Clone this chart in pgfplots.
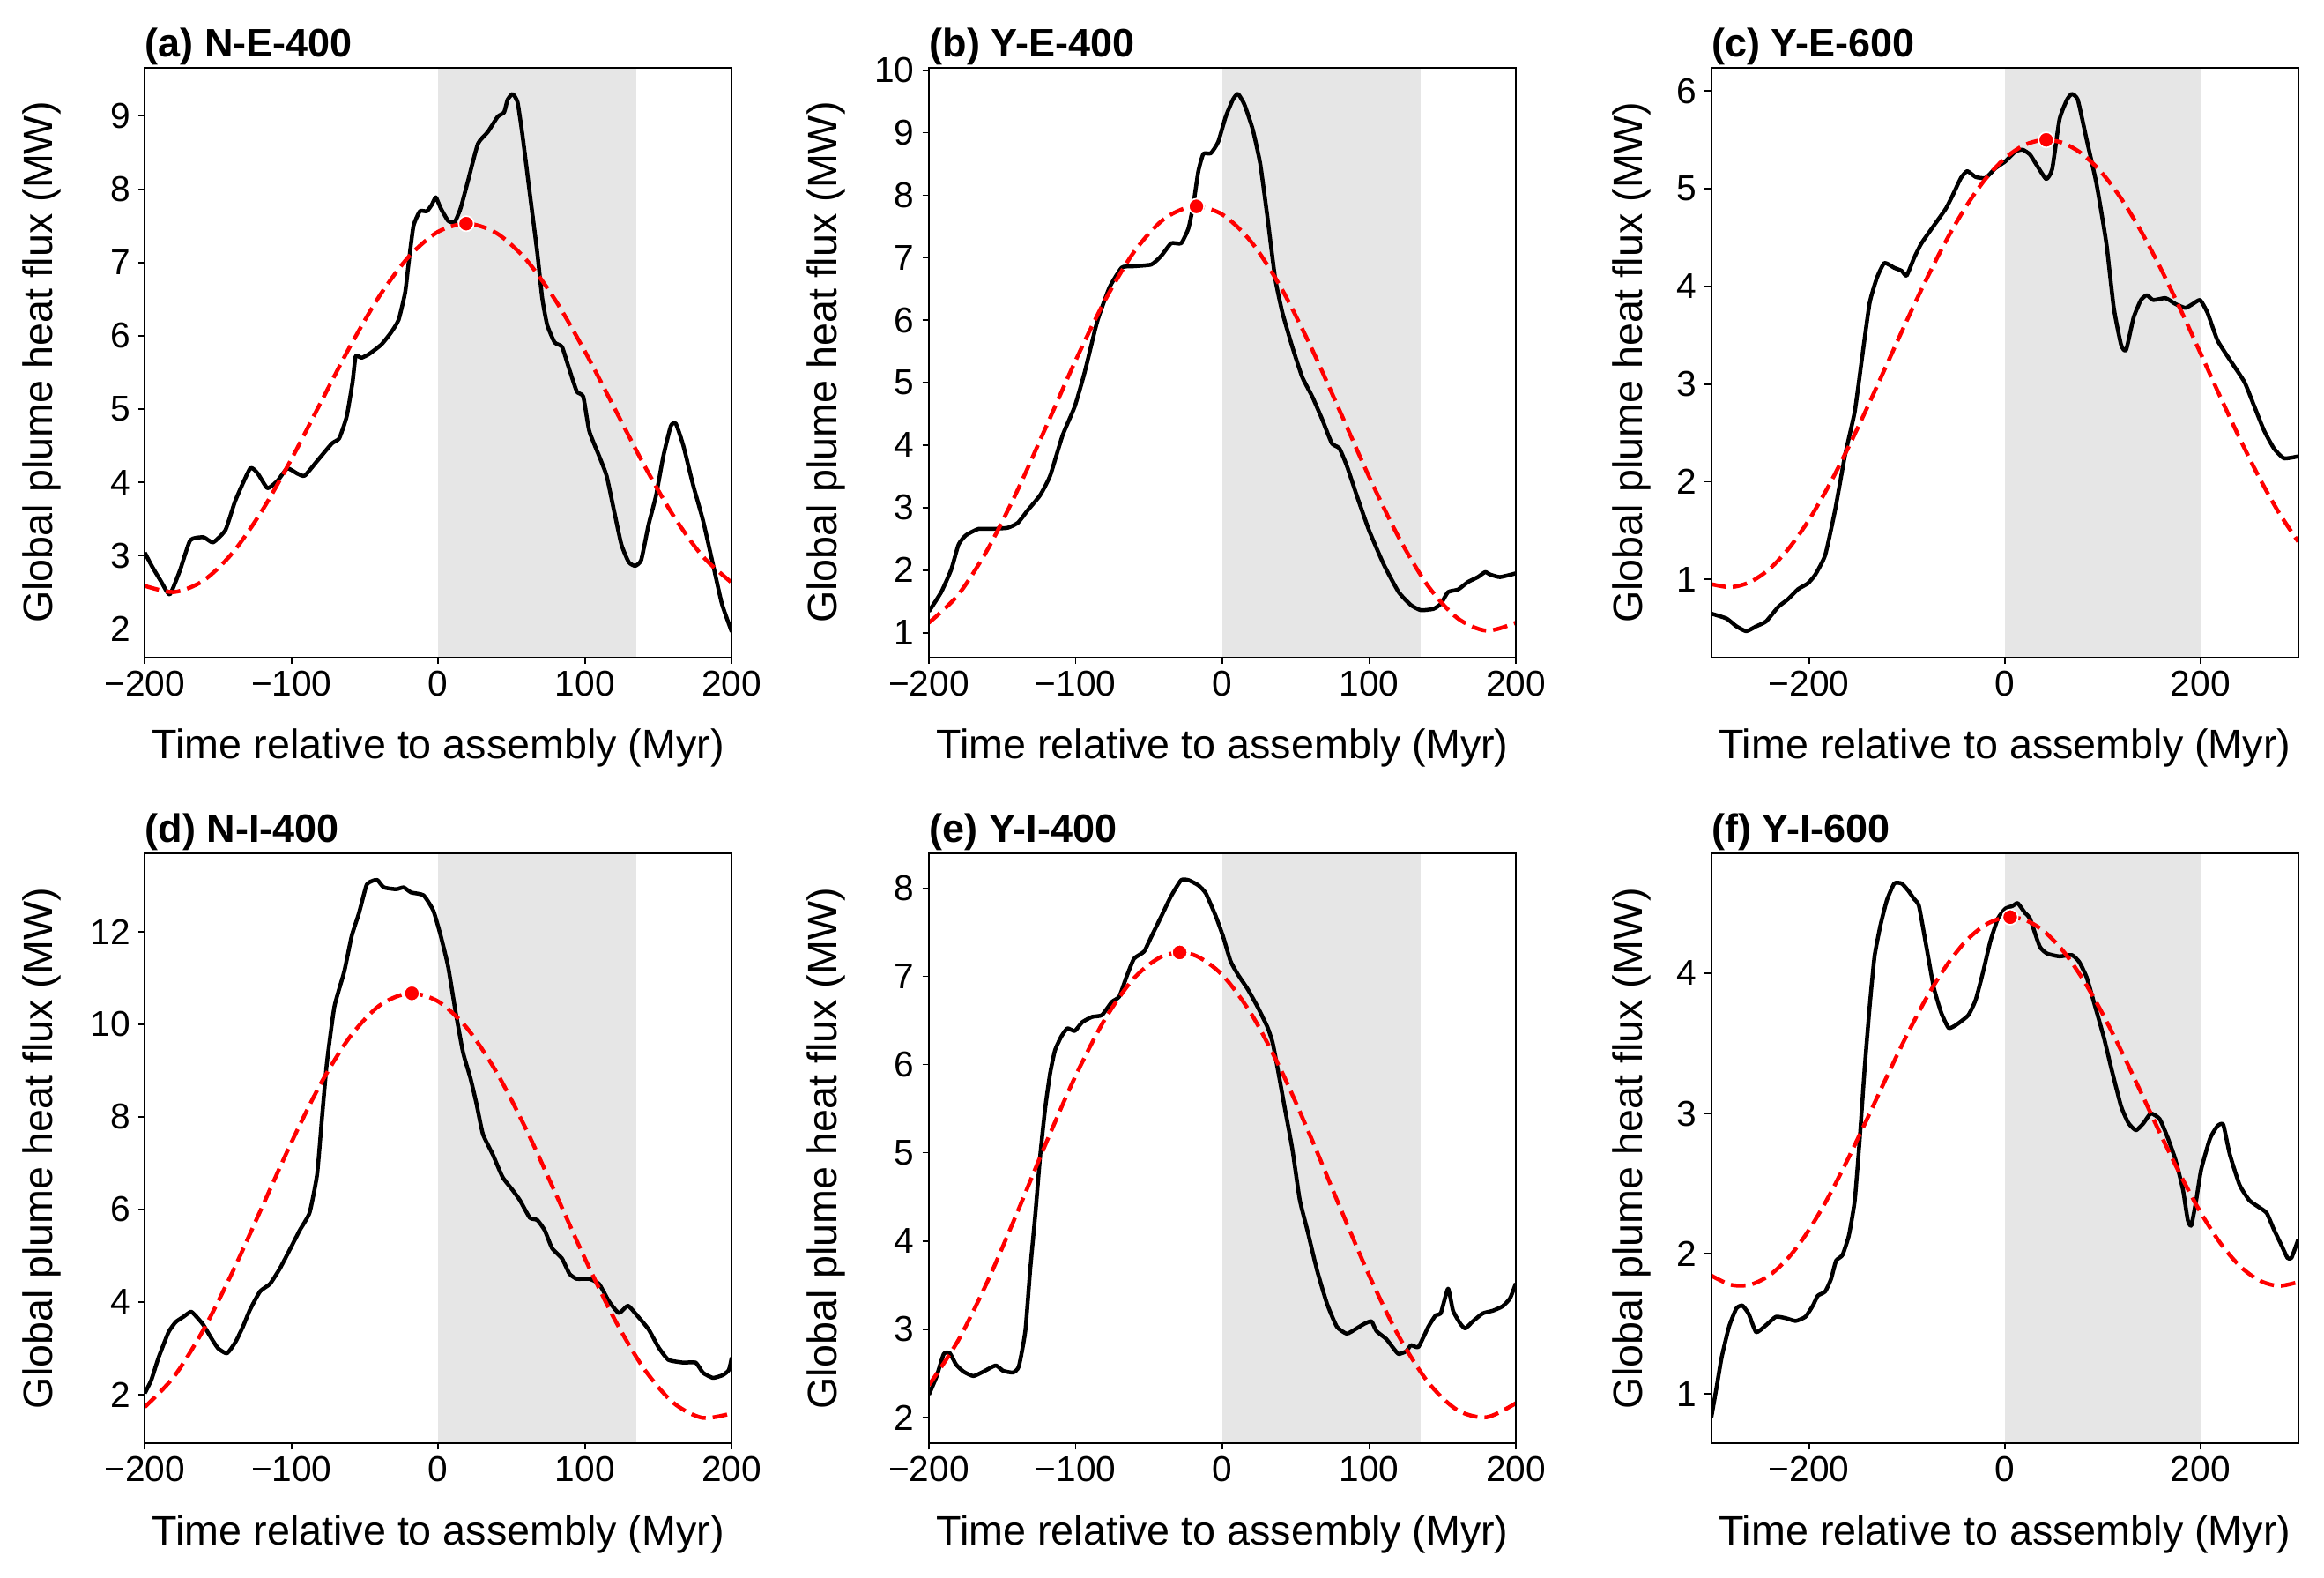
\documentclass[border=0pt]{standalone}
\usepackage{pgfplots}
\pgfplotsset{compat=1.18}
\usepackage{fontspec}
\setmainfont{Liberation Sans}
\definecolor{shade}{RGB}{230,230,230}
\pgfplotsset{
 panel/.style={
  scale only axis, width=199.8pt, height=200.6pt, anchor=north west,
  axis on top, clip=true,
  tick align=outside, major tick length=2.2pt,
  every tick/.style={black, line width=0.5pt},
  axis line style={line width=0.5pt},
  xtick pos=lower, ytick pos=left,
  tick label style={font=\fontsize{12.2}{14}\selectfont},
  /pgf/number format/assume math mode=true,
  xticklabel style={anchor=base, yshift=-11.0pt},
  yticklabel style={anchor=east, inner sep=0pt, xshift=-2.6pt},
  label style={font=\fontsize{14}{16}\selectfont},
  xlabel={Time relative to assembly (Myr)},
  ylabel={Global plume heat flux (MW)},
  xlabel style={at={(axis description cs:0.5,-0.1728)}, anchor=base, inner sep=0pt},
  title style={at={(axis description cs:0,1)}, anchor=base west, yshift=-2.28pt, inner sep=0pt, font=\fontsize{13.5}{15}\selectfont\bfseries},
 },
 colA/.style={ylabel style={at={(axis description cs:-0.2087,0.5)}, anchor=north, inner sep=0pt}},
 colC/.style={ylabel style={at={(axis description cs:-0.1697,0.5)}, anchor=north, inner sep=0pt}},
 four/.style={xmin=-200, xmax=200, xtick={-200,-100,0,100,200}, xticklabels={−200,−100,0,100,200}},
 six/.style={xmin=-300, xmax=300, xtick={-200,0,200}, xticklabels={−200,0,200}},
 blk/.style={black, line width=1.35pt, line join=round, smooth, tension=0.3},
 fit/.style={red, line width=1.35pt, dash pattern=on 5pt off 2.4pt, smooth},
 dot/.style={only marks, mark=*, mark size=2.6pt, mark options={fill=red, draw=white, line width=0.5pt, solid}},
 shd/.style={draw=none, fill=shade},
}
\begin{document}
\begin{tikzpicture}
\path[use as bounding box] (0,0) rectangle (791.1pt,-537pt);
% (a)
\begin{axis}[panel, colA, four, at={(49.29pt,-23.01pt)}, ymin=1.615, ymax=9.66, ytick={2,3,4,5,6,7,8,9}, title={(a) N-E-400}]
\addplot[shd] coordinates {(0,0) (0,20) (135,20) (135,0)};
\addplot[blk] coordinates {(-200,3.04) (-195,2.85) (-189,2.65) (-183,2.47) (-176,2.80) (-169,3.21) (-160,3.25) (-153.5,3.18) (-145,3.35) (-138.3,3.75) (-128.2,4.19) (-123,4.12) (-116.4,3.92) (-109.6,4.02) (-102.9,4.19) (-96.1,4.12) (-91.1,4.09) (-82.6,4.29) (-72.5,4.53) (-67.5,4.60) (-62.4,4.90) (-58.4,5.37) (-56.3,5.72) (-52.3,5.70) (-47.2,5.75) (-38.8,5.88) (-32,6.05) (-27,6.22) (-22.6,6.59) (-20.2,6.99) (-16.9,7.50) (-12.5,7.70) (-7.8,7.70) (-4.4,7.79) (-1.7,7.89) (1.7,7.74) (6.7,7.57) (11.1,7.55) (15.2,7.74) (20.2,8.11) (27,8.62) (33.7,8.78) (40.5,8.99) (44.9,9.05) (47.2,9.22) (50.6,9.30) (54,9.19) (57.3,8.75) (62.4,7.94) (67.5,7.13) (70.8,6.52) (74.2,6.15) (79.3,5.91) (84.3,5.85) (88.7,5.58) (94.4,5.24) (98.8,5.17) (102.9,4.70) (109.6,4.36) (114.7,4.09) (119.7,3.62) (124.8,3.15) (129.8,2.91) (134.2,2.86) (138.3,2.94) (143.3,3.42) (148.4,3.82) (153.4,4.36) (158.5,4.77) (161.9,4.80) (167,4.50) (173.7,3.96) (180.4,3.48) (187.2,2.88) (193.3,2.34) (200,1.96)};
\addplot[fit] coordinates {(-200,2.587) (-180,2.503) (-160,2.659) (-140,3.042) (-120,3.616) (-100,4.320) (-80,5.093) (-60,5.859) (-40,6.545) (-20,7.082) (0,7.421) (20,7.530) (40,7.397) (60,7.036) (80,6.479) (100,5.784) (120,5.015) (140,4.245) (160,3.551) (180,2.994) (200,2.630)};
\addplot[dot] coordinates {(19,7.53)};
\end{axis}
% (b)
\begin{axis}[panel, colA, four, at={(316.2pt,-23.01pt)}, ymin=0.61, ymax=10.04, ytick={1,2,3,4,5,6,7,8,9,10}, title={(b) Y-E-400}]
\addplot[shd] coordinates {(0,0) (0,20) (135,20) (135,0)};
\addplot[blk] coordinates {(-200,1.34) (-191.6,1.65) (-184.8,2.01) (-179.8,2.41) (-174.7,2.56) (-166.3,2.66) (-156.2,2.66) (-146.1,2.68) (-139.3,2.76) (-132.6,2.96) (-124.2,3.20) (-117.4,3.51) (-109,4.15) (-100.6,4.62) (-93.8,5.17) (-85.4,5.97) (-77,6.52) (-68.6,6.84) (-61.8,6.86) (-48.4,6.89) (-41.6,7.03) (-34.9,7.23) (-28.1,7.23) (-23.1,7.47) (-19.7,7.86) (-16.4,8.38) (-13,8.66) (-7.9,8.67) (-2.9,8.85) (2.2,9.25) (7.2,9.53) (10.6,9.62) (15,9.45) (20.7,9.05) (25.8,8.50) (30.8,7.63) (35.9,6.68) (40.9,6.12) (47.7,5.57) (54.4,5.09) (61.2,4.78) (67.9,4.42) (74.6,4.03) (79.7,3.95) (84.8,3.67) (91.5,3.20) (99.9,2.64) (110,2.09) (120.1,1.65) (128.6,1.44) (135.3,1.36) (143.7,1.38) (148.8,1.46) (153.8,1.65) (160.6,1.69) (167.3,1.81) (174.1,1.89) (179.1,1.97) (182.5,1.93) (189.2,1.89) (200,1.95)};
\addplot[fit] coordinates {(-200,1.160) (-180,1.608) (-160,2.332) (-140,3.260) (-120,4.302) (-100,5.356) (-80,6.317) (-60,7.098) (-40,7.614) (-20,7.818) (0,7.690) (20,7.242) (40,6.518) (60,5.590) (80,4.548) (100,3.494) (120,2.533) (140,1.752) (160,1.236) (180,1.032) (200,1.160)};
\addplot[dot] coordinates {(-17.7,7.82)};
\end{axis}
% (c)
\begin{axis}[panel, colC, six, at={(582.51pt,-23.01pt)}, ymin=0.205, ymax=6.24, ytick={1,2,3,4,5,6}, title={(c) Y-E-600}]
\addplot[shd] coordinates {(0,-5) (0,20) (200,20) (200,-5)};
\addplot[blk] coordinates {(-300,0.65) (-284.4,0.60) (-274.3,0.52) (-264.2,0.47) (-254.1,0.52) (-244,0.57) (-231.4,0.72) (-221.3,0.80) (-211.3,0.90) (-201.2,0.96) (-193.6,1.05) (-183.5,1.25) (-173.4,1.71) (-163.3,2.27) (-153.3,2.72) (-145.7,3.28) (-138.1,3.83) (-130.6,4.09) (-123,4.24) (-112.9,4.19) (-105.4,4.16) (-100.3,4.11) (-92.7,4.29) (-85.2,4.44) (-72.6,4.62) (-60,4.80) (-52.4,4.95) (-44.8,5.11) (-38.3,5.18) (-29.7,5.12) (-19.6,5.11) (-9.5,5.21) (0.6,5.28) (10.7,5.38) (18.2,5.40) (25.8,5.35) (33.4,5.23) (42.4,5.10) (48.5,5.20) (56,5.71) (63.6,5.91) (68.6,5.97) (74.7,5.91) (83.8,5.50) (93.8,5.05) (103.9,4.44) (111.5,3.78) (119,3.40) (124.1,3.35) (131.7,3.68) (139.2,3.86) (145.3,3.91) (151.8,3.86) (164.4,3.88) (174.5,3.82) (184.6,3.78) (192.2,3.82) (199.7,3.86) (207.3,3.73) (217.4,3.45) (230,3.25) (245.1,3.02) (255.2,2.77) (265.3,2.52) (275.3,2.34) (285.4,2.24) (300,2.26)};
\addplot[fit] coordinates {(-300,0.952) (-280,0.921) (-260,0.975) (-240,1.111) (-220,1.327) (-200,1.612) (-180,1.957) (-160,2.349) (-140,2.772) (-120,3.212) (-100,3.652) (-80,4.074) (-60,4.466) (-40,4.811) (-20,5.096) (0,5.310) (20,5.447) (40,5.499) (60,5.467) (80,5.350) (100,5.154) (120,4.885) (140,4.553) (160,4.172) (180,3.756) (200,3.319) (220,2.877) (240,2.448) (260,2.046) (280,1.688) (300,1.388)};
\addplot[dot] coordinates {(42.4,5.50)};
\end{axis}
% (d)
\begin{axis}[panel, colA, four, at={(49.29pt,-290.49pt)}, ymin=0.95, ymax=13.69, ytick={2,4,6,8,10,12}, title={(d) N-I-400}]
\addplot[shd] coordinates {(0,-5) (0,20) (135,20) (135,-5)};
\addplot[blk] coordinates {(-200,2.03) (-195.6,2.31) (-190.6,2.80) (-183.8,3.35) (-178.8,3.57) (-173.7,3.68) (-168.6,3.79) (-165.3,3.70) (-160.2,3.51) (-155.1,3.24) (-150.1,3.00) (-144,2.89) (-138.3,3.13) (-133.2,3.46) (-128.2,3.84) (-121.4,4.23) (-114.7,4.39) (-108,4.72) (-101.2,5.13) (-94.4,5.55) (-87.7,5.93) (-82.6,6.75) (-79.3,7.96) (-75.9,9.17) (-70.8,10.38) (-64.1,11.14) (-59,11.91) (-54,12.41) (-48.9,13.01) (-44.9,13.10) (-41.5,13.12) (-37.1,12.96) (-28.7,12.92) (-23.6,12.96) (-18.5,12.85) (-10.1,12.79) (-3.4,12.46) (1.7,11.91) (6.7,11.25) (11.8,10.27) (16.9,9.39) (21.9,8.84) (26,8.29) (30.4,7.63) (37.1,7.19) (43.8,6.70) (50.6,6.42) (55.6,6.20) (62.4,5.82) (67.5,5.77) (72.5,5.55) (77.6,5.16) (84.3,4.94) (89.4,4.61) (94.4,4.50) (102.9,4.50) (109.6,4.39) (116.4,4.01) (123.1,3.76) (129.2,3.92) (134.9,3.73) (143.3,3.41) (150.1,3.02) (156.8,2.75) (166.9,2.69) (175.4,2.69) (180.4,2.47) (187.2,2.36) (193.9,2.42) (198,2.53) (200,2.80)};
\addplot[fit] coordinates {(-200,1.731) (-180,2.391) (-160,3.402) (-140,4.662) (-120,6.057) (-100,7.454) (-80,8.724) (-60,9.738) (-40,10.408) (-20,10.668) (0,10.494) (20,9.902) (40,8.948) (60,7.724) (80,6.341) (100,4.934) (120,3.635) (140,2.566) (160,1.827) (180,1.497) (200,1.595)};
\addplot[dot] coordinates {(-18,10.67)};
\end{axis}
% (e)
\begin{axis}[panel, colA, four, at={(316.2pt,-290.49pt)}, ymin=1.71, ymax=8.39, ytick={2,3,4,5,6,7,8}, title={(e) Y-I-400}]
\addplot[shd] coordinates {(0,-5) (0,20) (135,20) (135,-5)};
\addplot[blk] coordinates {(-200,2.26) (-194.9,2.46) (-189.9,2.72) (-185.8,2.73) (-181.5,2.60) (-176.4,2.52) (-169.7,2.47) (-162.9,2.52) (-154.5,2.59) (-149.5,2.53) (-142.7,2.51) (-138.7,2.58) (-134.3,2.98) (-131,3.67) (-127.5,4.30) (-124.2,4.96) (-120.8,5.50) (-117.4,5.90) (-114.1,6.16) (-109.7,6.32) (-105.6,6.41) (-100.6,6.38) (-95.5,6.48) (-88.8,6.54) (-82.1,6.56) (-75.3,6.71) (-70.3,6.77) (-65.2,7.00) (-60.2,7.20) (-53.4,7.28) (-48.4,7.45) (-41.6,7.68) (-34.9,7.91) (-28.1,8.09) (-23.1,8.09) (-16.3,8.03) (-11.3,7.94) (-4.5,7.68) (0.5,7.45) (5.6,7.17) (10.6,7.02) (17.4,6.85) (24.1,6.65) (30.8,6.42) (34.2,6.25) (37.6,5.96) (42.6,5.50) (47.7,5.04) (52.7,4.47) (57.8,4.13) (64.5,3.67) (71.3,3.29) (78,3.03) (84.8,2.95) (91.5,3.01) (96.5,3.06) (101.6,3.09) (105,2.98) (111.7,2.89) (116.8,2.78) (120.1,2.72) (125.2,2.75) (128.6,2.82) (133.6,2.80) (140.4,3.03) (145.4,3.16) (148.8,3.18) (153.8,3.46) (157.2,3.21) (162.3,3.06) (165.6,3.01) (170.7,3.09) (177.4,3.18) (184.2,3.21) (190.9,3.26) (196,3.35) (200,3.52)};
\addplot[fit] coordinates {(-200,2.367) (-180,2.875) (-160,3.545) (-140,4.316) (-120,5.117) (-100,5.873) (-80,6.515) (-60,6.983) (-40,7.234) (-20,7.245) (0,7.014) (20,6.565) (40,5.936) (60,5.188) (80,4.388) (100,3.611) (120,2.928) (140,2.404) (160,2.086) (180,2.003) (200,2.163)};
\addplot[dot] coordinates {(-29.1,7.27)};
\end{axis}
% (f)
\begin{axis}[panel, colC, six, at={(582.51pt,-290.49pt)}, ymin=0.649, ymax=4.853, ytick={1,2,3,4}, title={(f) Y-I-600}]
\addplot[shd] coordinates {(0,-5) (0,20) (200,20) (200,-5)};
\addplot[blk] coordinates {(-300,0.83) (-294.5,1.05) (-289.4,1.26) (-281.8,1.48) (-274.3,1.61) (-268.2,1.63) (-261.7,1.57) (-254.1,1.44) (-244,1.49) (-233.9,1.55) (-223.9,1.54) (-213.8,1.52) (-203.7,1.55) (-196.1,1.63) (-191.1,1.70) (-183.5,1.73) (-177.5,1.82) (-172.4,1.95) (-165.9,1.99) (-159.3,2.13) (-153.3,2.38) (-148.2,2.82) (-143.2,3.32) (-138.1,3.76) (-133.1,4.12) (-127.1,4.34) (-120.5,4.52) (-112.9,4.64) (-105.4,4.64) (-98.8,4.59) (-92.7,4.53) (-87.7,4.48) (-80.1,4.19) (-72.6,3.90) (-65,3.72) (-57.4,3.61) (-49.9,3.63) (-37.3,3.70) (-29.7,3.81) (-22.1,4.01) (-14.6,4.23) (-7,4.39) (0.6,4.46) (8.1,4.48) (13.2,4.50) (20.7,4.43) (25.8,4.39) (35.8,4.19) (43.4,4.14) (56,4.12) (68.6,4.13) (76.2,4.08) (83.8,3.97) (91.3,3.79) (101.4,3.54) (109,3.32) (119,3.05) (126.6,2.93) (134.2,2.88) (141.8,2.93) (149.3,3.00) (158.4,2.96) (167,2.82) (174.5,2.67) (182.1,2.46) (187.1,2.24) (190.7,2.20) (195.7,2.38) (200.8,2.60) (209.8,2.82) (217.4,2.91) (223.4,2.92) (230,2.71) (240.1,2.49) (250.1,2.38) (260.2,2.33) (267.8,2.29) (275.3,2.17) (282.9,2.06) (289,1.97) (293.1,1.97) (300,2.10)};
\addplot[fit] coordinates {(-300,1.844) (-280,1.778) (-260,1.779) (-240,1.848) (-220,1.980) (-200,2.170) (-180,2.407) (-160,2.679) (-140,2.971) (-120,3.270) (-100,3.559) (-80,3.824) (-60,4.050) (-40,4.227) (-20,4.344) (0,4.397) (20,4.382) (40,4.300) (60,4.156) (80,3.956) (100,3.711) (120,3.434) (140,3.139) (160,2.841) (180,2.556) (200,2.297) (220,2.079) (240,1.914) (260,1.810) (280,1.770) (300,1.798)};
\addplot[dot] coordinates {(5.6,4.40)};
\end{axis}
\end{tikzpicture}
\end{document}
